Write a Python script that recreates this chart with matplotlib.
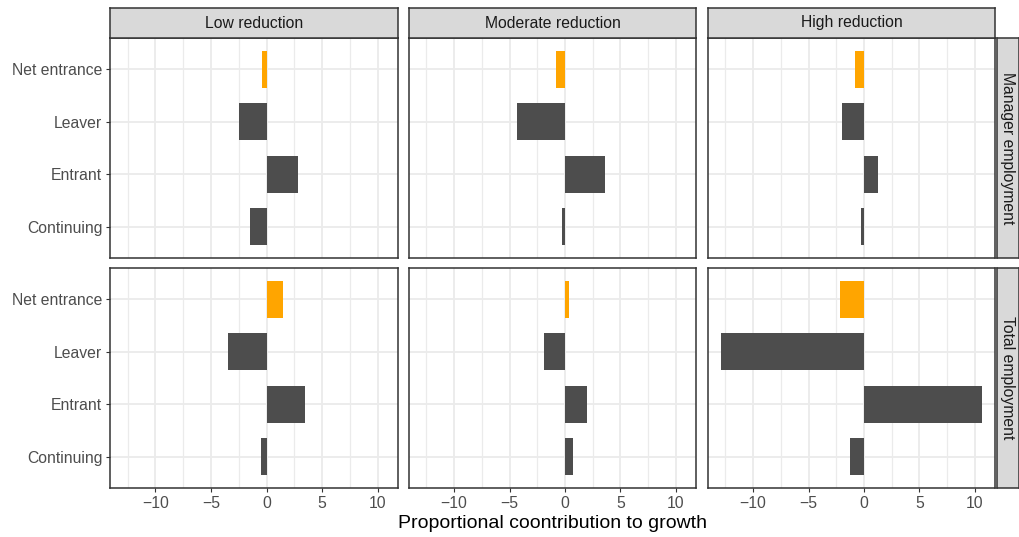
import numpy as np
import matplotlib.pyplot as plt

plt.rcParams['font.family'] = ['Liberation Sans', 'DejaVu Sans']

components = ["Continuing", "Entrant", "Leaver", "Net entrance"]
scenarios = ["Low reduction", "Moderate reduction", "High reduction"]
outcomes = ["Manager employment", "Total employment"]

# contributions per scenario, in the order of `components`
manager_low = [-1.45, 2.85, -2.5, -0.4]
manager_moderate = [-0.25, 3.6, -4.3, -0.8]
manager_high = [-0.3, 1.25, -2.0, -0.8]
total_low = [-0.5, 3.5, -3.5, 1.5]
total_moderate = [0.7, 1.95, -1.9, 0.4]
total_high = [-1.25, 10.65, -12.9, -2.2]

values = [[manager_low, manager_moderate, manager_high],
          [total_low, total_moderate, total_high]]

W, H = 1020, 537
fig = plt.figure(figsize=(W / 100, H / 100), dpi=100)

col_x = [(110, 398), (409, 696), (708, 995)]
row_y = [(38, 258), (268, 488)]

allv = np.concatenate([np.ravel(v) for v in values] + [[0]])
lo, hi = allv.min(), allv.max()
pad = 0.05 * (hi - lo)
xlim = (lo - pad, hi + pad)

grid = "#ebebeb"
border = "#333333"
fs = 11.3

def frac(x0, y0, x1, y1):
    return [x0 / W, 1 - y1 / H, (x1 - x0) / W, (y1 - y0) / H]

def strip(x0, y0, x1, y1, label, rot=0):
    sax = fig.add_axes(frac(x0, y0, x1, y1))
    sax.set_xticks([]); sax.set_yticks([])
    sax.set_facecolor("#d9d9d9")
    for s in sax.spines.values():
        s.set_color(border); s.set_linewidth(1.1)
    sax.text(0.5, 0.5, label, ha="center", va="center", rotation=rot,
             fontsize=fs, color="#1a1a1a", transform=sax.transAxes)

for r, (y0, y1) in enumerate(row_y):
    for c, (x0, x1) in enumerate(col_x):
        ax = fig.add_axes(frac(x0, y0, x1, y1))
        vals = values[r][c]
        colors = ["#ffa500" if comp == "Net entrance" else "#4d4d4d" for comp in components]
        ypos = np.arange(len(components))
        ax.barh(ypos, vals, height=0.7, color=colors, zorder=3)
        ax.set_xlim(*xlim)
        ax.set_ylim(-0.6, len(components) - 0.4)
        ax.set_xticks([-10, -5, 0, 5, 10])
        ax.set_xticks([-12.5, -7.5, -2.5, 2.5, 7.5], minor=True)
        ax.set_yticks(ypos)
        ax.grid(True, which="major", color=grid, lw=1.3, zorder=0)
        ax.grid(True, which="minor", axis="x", color=grid, lw=0.9, zorder=0)
        ax.tick_params(which="minor", length=0)
        ax.tick_params(which="major", length=3, width=0.8, color=border,
                       labelcolor="#4d4d4d", labelsize=fs, pad=2.5)
        for s in ax.spines.values():
            s.set_color(border)
            s.set_linewidth(1.1)
            s.set_zorder(5)
        if c == 0:
            ax.set_yticklabels(components)
        else:
            ax.set_yticklabels([])
            ax.tick_params(axis="y", length=0)
        if r == 0:
            ax.set_xticklabels([])
            ax.tick_params(axis="x", length=0)
        else:
            ax.set_xticklabels(["\u221210", "\u22125", "0", "5", "10"])

        # column strips along the top
        if r == 0:
            strip(x0, 8, x1, 38, scenarios[c])
    # row strips on the right
    strip(997, y0, 1019, y1, outcomes[r], rot=-90)

fig.text((110 + 995) / 2 / W, 1 - 524 / H, "Proportional coontribution to growth",
         ha="center", va="center", fontsize=14, color="black")

fig.savefig("out.png", dpi=100)
